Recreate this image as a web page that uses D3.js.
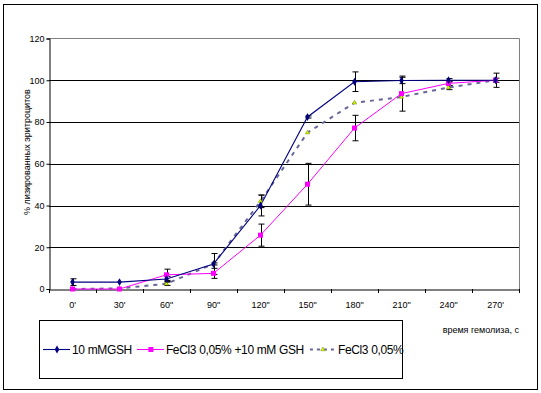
<!DOCTYPE html>
<html><head><meta charset="utf-8">
<script src="https://cdn.jsdelivr.net/npm/d3@7/dist/d3.min.js"></script>
<style>
html,body{margin:0;padding:0;background:#fff;}
text{font-family:"Liberation Sans",Arial,sans-serif;fill:#000;}
</style></head><body>
<svg id="c" width="541" height="393"></svg>
<script>
const categories = ["0'", "30'", "60\"", "90\"", "120\"", "150\"", "180\"", "210\"", "240\"", "270'"];
const gshValues   = [3.3, 3.3, 4.8, 12, 40, 82.4, 99.3, 99.9, 100, 100];
const gshErr      = [1.6, 0, 1.2, 5, 5, 0.5, 4.7, 1.5, 0.8, 1];
const fegshValues = [0, 0, 6.8, 7.5, 25.8, 50.2, 77.1, 93.6, 98.5, 100];
const fegshErr    = [0, 0, 2.7, 2.4, 5.3, 10, 6.1, 8.4, 1, 3.4];
const feValues    = [0, 0.3, 2.5, 12, 42, 74.9, 89.2, 92, 96.5, 100];
const feErr       = [0, 0, 0.8, 0.5, 3, 0, 0, 0, 1, 0];
const yTicks      = [0, 20, 40, 60, 80, 100, 120];
const seriesNames = ["10 mMGSH", "FeCl3 0,05% +10 mM GSH", "FeCl3 0,05%"];
const yTitle = "% лизированных эритроцитов";
const xTitle = "время гемолиза, с";

const svg = d3.select("#c");
const L = 49, R = 519, T = 38.5, B = 289;

// outer border
svg.append("rect").attr("x", 3.5).attr("y", 4.5).attr("width", 534).attr("height", 385)
  .attr("fill", "none").attr("stroke", "#000").attr("stroke-width", 1);

const x = d3.scaleBand().domain(categories).range([L, R]);
const cx = c => x(c) + x.bandwidth() / 2;
const y = d3.scaleLinear().domain([0, 120]).range([B, T]);

// gridlines
svg.append("g").selectAll("line").data(yTicks.filter(v => v > 0 && v < 120)).join("line")
  .attr("x1", L).attr("x2", R).attr("y1", d => Math.round(y(d)) + 0.5).attr("y2", d => Math.round(y(d)) + 0.5)
  .attr("stroke", "#000").attr("stroke-width", 1);
// plot border top/right gray
svg.append("path").attr("d", `M${L},${T}H${R + 0.5}V${B}`).attr("fill", "none").attr("stroke", "#808080");

// y axis
const yAxis = d3.axisLeft(y).tickValues(yTicks).tickSize(3).tickPadding(2);
const gy = svg.append("g").attr("transform", `translate(${L + 0.5},0)`).call(yAxis);
gy.select(".domain").attr("stroke", "#000");
gy.selectAll("text").style("font-size", "9px").style("font-family", "'Liberation Sans',Arial,sans-serif").attr("fill", "#000");

// x axis
const xAxis = d3.axisBottom(x).tickSize(0).tickPadding(12);
const gx = svg.append("g").attr("transform", `translate(0,${Math.round(B) + 0.5})`).call(xAxis);
gx.select(".domain").attr("stroke", "#000");
gx.selectAll("text").style("font-size", "9px").style("font-family", "'Liberation Sans',Arial,sans-serif").attr("fill", "#000");
// category boundary ticks
const bounds = categories.map(c => x(c)).concat([R]);
svg.append("g").selectAll("line").data(bounds).join("line")
  .attr("x1", d => Math.round(d) + 0.5).attr("x2", d => Math.round(d) + 0.5)
  .attr("y1", Math.round(B)).attr("y2", Math.round(B) + 4).attr("stroke", "#000");

// titles
svg.append("text").attr("transform", `translate(29.5,${152}) rotate(-90)`).attr("text-anchor", "middle")
  .style("font-size", "9px").text(yTitle);
svg.append("text").attr("x", 519).attr("y", 333).attr("text-anchor", "end")
  .style("font-size", "9px").text(xTitle);

// lines
const line = vals => d3.line().x((d, i) => cx(categories[i])).y(d => y(d))(vals);
svg.append("path").attr("d", line(feValues)).attr("fill", "none").attr("stroke", "#666699")
  .attr("stroke-width", 2).attr("stroke-dasharray", "4,5");
svg.append("path").attr("d", line(fegshValues)).attr("fill", "none").attr("stroke", "#FF00FF").attr("stroke-width", 1);
svg.append("path").attr("d", line(gshValues)).attr("fill", "none").attr("stroke", "#000080").attr("stroke-width", 1.1);

// error bars
function errBars(vals, errs) {
  const g = svg.append("g").attr("stroke", "#000").attr("stroke-width", 1);
  vals.forEach((v, i) => {
    const e = errs[i]; if (!e) return;
    const px = Math.round(cx(categories[i])) + 0.5;
    g.append("line").attr("x1", px).attr("x2", px).attr("y1", y(v + e)).attr("y2", y(v - e));
    [v + e, v - e].forEach(w => g.append("line").attr("x1", px - 3).attr("x2", px + 3).attr("y1", y(w)).attr("y2", y(w)));
  });
}
errBars(gshValues, gshErr);
errBars(fegshValues, fegshErr);
errBars(feValues, feErr);

// markers
const diamond = d3.symbol().type(d3.symbolDiamond).size(18);
const square = d3.symbol().type(d3.symbolSquare).size(25);
const tri = d3.symbol().type(d3.symbolTriangle).size(8);
svg.append("g").selectAll("path").data(feValues).join("path")
  .attr("transform", (d, i) => `translate(${cx(categories[i])},${y(d)})`).attr("d", tri)
  .attr("fill", "#CCFF00").attr("stroke", "#808000").attr("stroke-width", 0.5);
svg.append("g").selectAll("path").data(fegshValues).join("path")
  .attr("transform", (d, i) => `translate(${cx(categories[i])},${y(d)})`).attr("d", square)
  .attr("fill", "#FF00FF");
svg.append("g").selectAll("path").data(gshValues).join("path")
  .attr("transform", (d, i) => `translate(${cx(categories[i])},${y(d)})`).attr("d", diamond)
  .attr("fill", "#000080");

// legend
svg.append("rect").attr("x", 39.5).attr("y", 320.5).attr("width", 363).attr("height", 58)
  .attr("fill", "none").attr("stroke", "#000");
const styles = [
  {stroke: "#000080", dash: null, w: 1.1, sym: diamond, fill: "#000080"},
  {stroke: "#FF00FF", dash: null, w: 1, sym: square, fill: "#FF00FF"},
  {stroke: "#666699", dash: "4,5", w: 2, sym: tri, fill: "#CCFF00"}
];
let lx = 43;
const ly = 349.5;
seriesNames.forEach((name, i) => {
  const s = styles[i];
  const seg = svg.append("line").attr("x1", lx).attr("x2", lx + 27).attr("y1", ly).attr("y2", ly)
    .attr("stroke", s.stroke).attr("stroke-width", s.w);
  if (s.dash) seg.attr("stroke-dasharray", "3,4").attr("stroke-dashoffset", -1);
  const mk = svg.append("path").attr("transform", `translate(${lx + 14},${ly})`).attr("d", s.sym).attr("fill", s.fill);
  if (i === 2) mk.attr("stroke", "#808000").attr("stroke-width", 0.5);
  const t = svg.append("text").attr("x", lx + 29).attr("y", ly + 4.5).style("font-size", "12px")
    .style("letter-spacing", "-0.35px").text(name);
  lx = lx + 29 + t.node().getComputedTextLength() + 5;
});
</script></body></html>
